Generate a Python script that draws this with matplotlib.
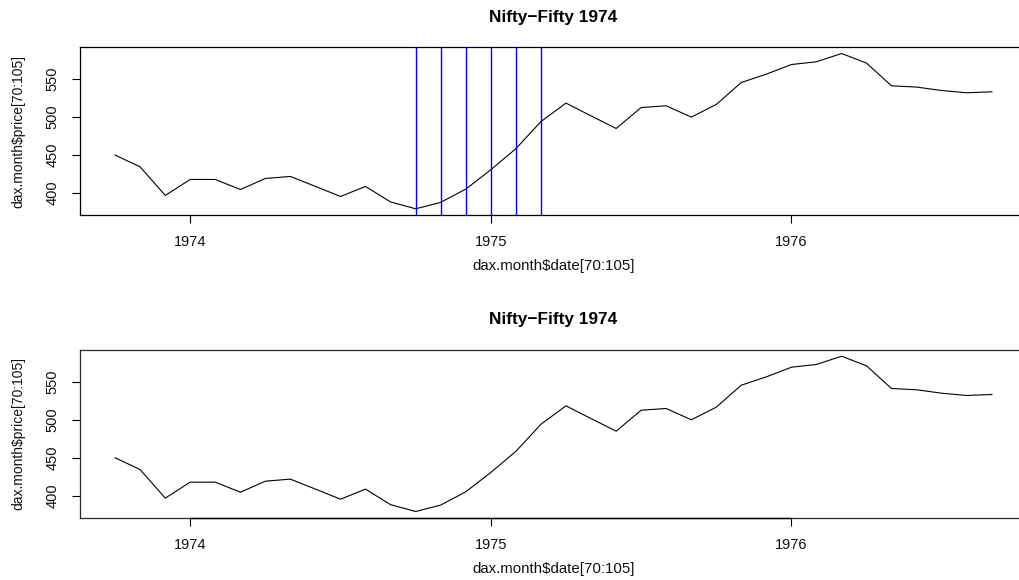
import matplotlib
matplotlib.use("Agg")
import matplotlib.pyplot as plt

# ---- data (monthly index 70:105) ----
dates = [1973.750, 1973.833, 1973.917, 1974.000, 1974.083, 1974.167,
         1974.250, 1974.333, 1974.417, 1974.500, 1974.583, 1974.667,
         1974.750, 1974.833, 1974.917, 1975.000, 1975.083, 1975.167,
         1975.250, 1975.333, 1975.417, 1975.500, 1975.583, 1975.667,
         1975.750, 1975.833, 1975.917, 1976.000, 1976.083, 1976.167,
         1976.250, 1976.333, 1976.417, 1976.500, 1976.583, 1976.667]
price = [450.0, 434.6, 396.9, 417.9, 417.9, 404.7,
         419.2, 421.9, 408.7, 395.5, 408.7, 388.2,
         379.3, 387.7, 405.3, 430.7, 458.3, 494.2,
         518.4, 501.7, 485.0, 512.6, 514.9, 500.0,
         516.6, 545.5, 556.6, 569.2, 572.8, 583.7,
         571.0, 541.2, 539.5, 535.0, 532.0, 533.3]
vline_dates = [1974.750, 1974.833, 1974.917, 1975.000, 1975.083, 1975.167]
x_ticks = [1974, 1975, 1976]
y_ticks = [400, 450, 500, 550]
title = "Nifty\u2212Fifty 1974"
xlabel = "dax.month$date[70:105]"
ylabel = "dax.month$price[70:105]"

plt.rcParams["font.family"] = ["Liberation Sans", "DejaVu Sans"]

W, H = 1019, 580
fig = plt.figure(figsize=(W / 100, H / 100), dpi=100)

def ext(lo, hi):
    r = hi - lo
    return lo - 0.04 * r, hi + 0.04 * r

ax_left = 80 / W
ax_w = (1027 - 80) / W
ax_h = 167.7 / H
ax_top = fig.add_axes([ax_left, (H - 215) / H, ax_w, ax_h])
ax_bot = fig.add_axes([ax_left, (H - 517.7) / H, ax_w, ax_h])

for k, ax in enumerate([ax_top, ax_bot]):
    ax.plot(dates, price, color="black", lw=0.8, zorder=3)
    if k == 0:
        for v in vline_dates:
            ax.axvline(v, color="#0000ff", lw=1.0, zorder=4)
    ax.set_xlim(*ext(min(dates), max(dates)))
    ax.set_ylim(*ext(min(price), max(price)))
    ax.set_xticks(x_ticks)
    ax.set_xticklabels([str(t) for t in x_ticks])
    ax.set_yticks(y_ticks)
    ax.set_yticklabels([str(t) for t in y_ticks])
    ax.tick_params(axis="both", direction="out", length=5.5, width=0.8,
                   labelsize=10.5, color="black", labelcolor="#111111")
    ax.tick_params(axis="x", pad=9)
    ax.tick_params(axis="y", pad=9)
    for lab in ax.get_yticklabels():
        lab.set_rotation(90)
        lab.set_va("center")
    for s in ax.spines.values():
        s.set_linewidth(0.9)
        s.set_color("black" if k == 0 else "#2a2a2a")
    if k == 1:
        ax.plot([x_ticks[0], x_ticks[-1]], [ax.get_ylim()[0]] * 2,
                color="black", lw=1.0, clip_on=False, zorder=5)
    ax.set_xlabel(xlabel, fontsize=10.8, color="#111111")
    ax.xaxis.set_label_coords(0.5, (215 - 266) / 167.7)
    ax.xaxis.label.set_va("center")
    ax.set_ylabel(ylabel, fontsize=10.0, color="#111111")
    ax.yaxis.set_label_coords((18 - 80) / 947, 0.5)
    ax.yaxis.label.set_va("center")
    ax.set_title(title, fontsize=12.4, fontweight="bold", y=1.18, pad=0,
                 va="center")

fig.savefig("out.png", dpi=100)
